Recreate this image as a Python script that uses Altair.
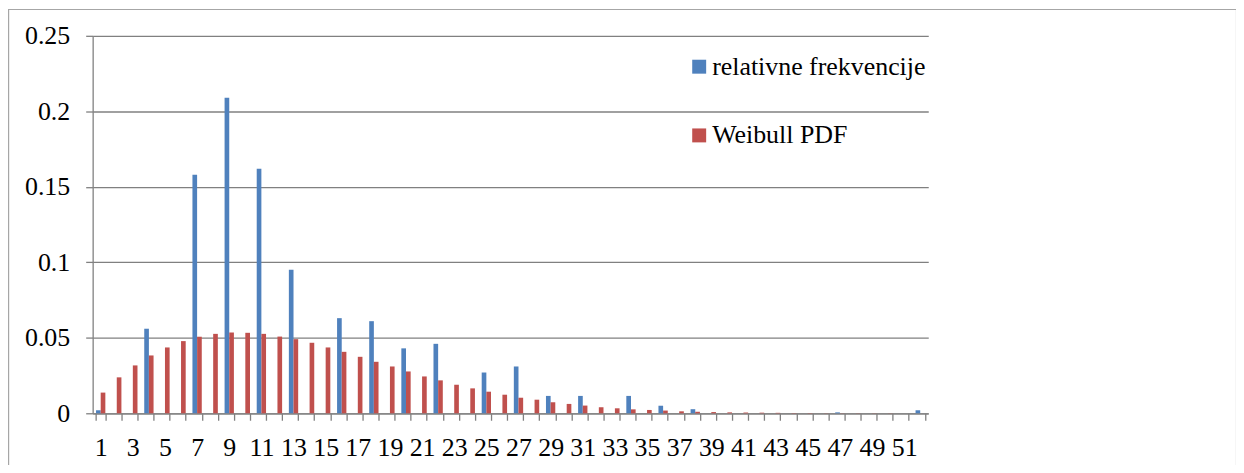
import altair as alt
import pandas as pd

categories = list(range(1, 53))

blue_values = {
    1: 0.002, 4: 0.056, 7: 0.158, 9: 0.209, 11: 0.162, 13: 0.095,
    16: 0.063, 18: 0.061, 20: 0.043, 22: 0.046, 25: 0.027, 27: 0.031,
    29: 0.0115, 31: 0.0115, 34: 0.0115, 36: 0.005, 38: 0.0027,
    47: 0.0006, 52: 0.002,
}

weibull_pdf = [
    0.0137, 0.0238, 0.0317, 0.0383, 0.0436, 0.0478, 0.0507, 0.0526, 0.0535, 0.0533,
    0.0526, 0.0508, 0.0491, 0.0467, 0.0436, 0.0407, 0.0374, 0.0341, 0.0310, 0.0277,
    0.0244, 0.0218, 0.0189, 0.0165, 0.0143, 0.0123, 0.0103, 0.0090, 0.0073, 0.0062,
    0.0051, 0.0040, 0.0033, 0.0026, 0.0022, 0.0018, 0.0013, 0.0010, 0.0008, 0.0006,
    0.0005, 0.0004, 0.0003, 0.0002, 0.0002, 0.0001, 0.0001, 0.0001, 0.0001, 0.0001,
    0.0, 0.0,
]

series_names = ["relativne frekvencije", "Weibull PDF"]
series_colors = ["#4F81BD", "#C0504D"]
y_ticks = [0, 0.05, 0.1, 0.15, 0.2, 0.25]

rows = []
for i, c in enumerate(categories):
    rows.append({"cat": c, "series": series_names[0], "value": blue_values.get(c, 0.0)})
    rows.append({"cat": c, "series": series_names[1], "value": weibull_pdf[i]})
df = pd.DataFrame(rows)

FONT = "Liberation Serif"
GRAY = "#808080"
FS = 26

bars = alt.Chart(df).mark_bar().encode(
    x=alt.X(
        "cat:O",
        scale=alt.Scale(paddingInner=0.42, paddingOuter=0.21),
        axis=alt.Axis(
            title=None, labelAngle=0, grid=False,
            tickBand="extent", tickExtra=True, tickSize=7, tickColor=GRAY,
            domainColor=GRAY, domainWidth=1.3, tickWidth=1.3,
            labelFont=FONT, labelFontSize=FS, labelColor="black", labelPadding=14,
            labelExpr="datum.value % 2 == 1 ? datum.label : ''",
        ),
    ),
    xOffset=alt.XOffset("series:N", sort=series_names),
    y=alt.Y(
        "value:Q",
        scale=alt.Scale(domain=[0, 0.25], nice=False),
        axis=alt.Axis(
            title=None, values=y_ticks, format=".2~f",
            grid=True, gridColor=GRAY, gridWidth=1.3,
            domainColor=GRAY, domainWidth=1.3, tickColor=GRAY, tickSize=7, tickWidth=1.3,
            labelFont=FONT, labelFontSize=FS, labelColor="black", labelPadding=16,
        ),
    ),
    color=alt.Color(
        "series:N",
        sort=series_names,
        scale=alt.Scale(domain=series_names, range=series_colors),
        legend=alt.Legend(
            title=None, orient="none", legendX=596, legendY=18,
            symbolType="square", symbolSize=196, symbolStrokeWidth=0,
            labelFont=FONT, labelFontSize=FS, labelColor="black", labelLimit=400,
            labelOffset=0, rowPadding=43,
        ),
    ),
)

border = alt.Chart(alt.Data(values=[{"a": 1}])).mark_rect(
    fill="white", fillOpacity=0, stroke="#a6a6a6", strokeWidth=1.2
).encode(
    x=alt.value(-84.4), x2=alt.value(1148.5),
    y=alt.value(-26.4), y2=alt.value(600),
)

chart = alt.layer(border, bars).properties(
    width=839, height=379,
    autosize=alt.AutoSizeParams(type="none"),
    padding={"left": 85, "top": 27, "right": 309, "bottom": 51},
    background="white",
).configure_view(stroke=None)

chart.save("out.html", embed_options={"renderer": "svg", "actions": False})
